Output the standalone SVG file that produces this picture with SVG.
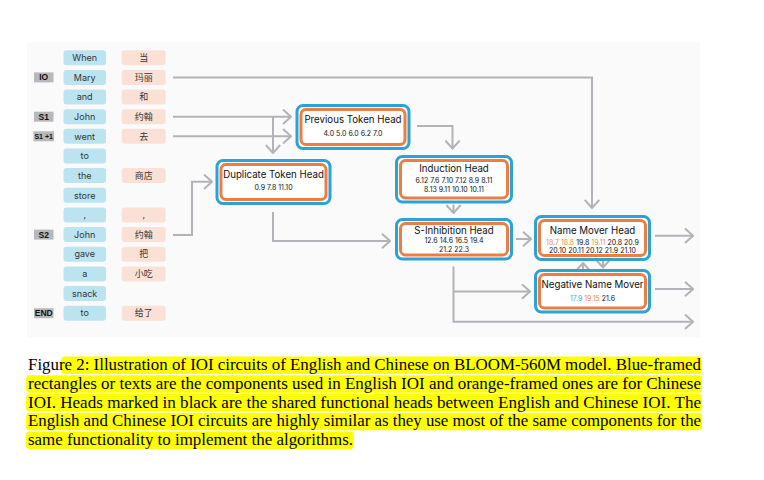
<svg xmlns="http://www.w3.org/2000/svg" width="764" height="480" viewBox="0 0 764 480">
<style>
.tb{fill:#bce4f0}
.to{fill:#fbe1d5}
.tt{font-family:Inter,"Noto Sans CJK SC",sans-serif;font-size:9px;fill:#333;text-anchor:middle}
.lb{fill:#b8b8bc}
.lt{font-family:"Liberation Sans",Arial,sans-serif;font-weight:bold;font-size:8.5px;text-anchor:middle;fill:#111}
.fb{fill:#fff;stroke:#2ea2d2;stroke-width:3}
.fo{fill:#fff;stroke:#ec7e44;stroke-width:3}
.nt{font-family:Inter,sans-serif;font-size:9.7px;text-anchor:middle;fill:#111}
.nn{font-family:Inter,sans-serif;font-size:7px;text-anchor:middle;fill:#111}
.c{fill:none;stroke:#b4b2b8;stroke-width:2}
.o{fill:#ef8a4f}
.b{fill:#3ea8dc}
.cap{font-family:"Liberation Serif","Times New Roman",serif;font-size:16px;fill:#000}
.hl{fill:#ffff00}
</style>
<defs>
<marker id="ah" markerUnits="userSpaceOnUse" viewBox="0 0 10 16" refX="9" refY="8" markerWidth="10" markerHeight="16" orient="auto">
<path d="M1,0.8 L9,8 L1,15.2" fill="none" stroke="#b4b2b8" stroke-width="2"/>
</marker>
</defs>
<rect x="27" y="42" width="673" height="295" fill="#fafafa"/>

<g id="tokens">
<g id="row0"><rect class="tb" x="63.5" y="50.2" width="42.5" height="15" rx="3"/><text class="tt" x="84.7" y="60.9">When</text><rect class="to" x="121.7" y="50.2" width="44" height="15" rx="3"/><text class="tt" x="143.7" y="60.9">当</text></g>
<g id="row1"><rect class="lb" x="34" y="72.4" width="19.5" height="10"/><text class="lt" x="43.7" y="80.4">IO</text><rect class="tb" x="63.5" y="69.9" width="42.5" height="15" rx="3"/><text class="tt" x="84.7" y="80.6">Mary</text><rect class="to" x="121.7" y="69.9" width="44" height="15" rx="3"/><text class="tt" x="143.7" y="80.6">玛丽</text></g>
<g id="row2"><rect class="tb" x="63.5" y="89.5" width="42.5" height="15" rx="3"/><text class="tt" x="84.7" y="100.2">and</text><rect class="to" x="121.7" y="89.5" width="44" height="15" rx="3"/><text class="tt" x="143.7" y="100.2">和</text></g>
<g id="row3"><rect class="lb" x="34" y="111.7" width="19.5" height="10"/><text class="lt" x="43.7" y="119.7">S1</text><rect class="tb" x="63.5" y="109.2" width="42.5" height="15" rx="3"/><text class="tt" x="84.7" y="119.9">John</text><rect class="to" x="121.7" y="109.2" width="44" height="15" rx="3"/><text class="tt" x="143.7" y="119.9">约翰</text></g>
<g id="row4"><rect class="lb" x="33.5" y="131.3" width="20.5" height="10"/><text class="lt" x="43.7" y="138.8" style="font-size:7px">S1 +1</text><rect class="tb" x="63.5" y="128.8" width="42.5" height="15" rx="3"/><text class="tt" x="84.7" y="139.5">went</text><rect class="to" x="121.7" y="128.8" width="44" height="15" rx="3"/><text class="tt" x="143.7" y="139.5">去</text></g>
<g id="row5"><rect class="tb" x="63.5" y="148.5" width="42.5" height="15" rx="3"/><text class="tt" x="84.7" y="159.2">to</text></g>
<g id="row6"><rect class="tb" x="63.5" y="168.1" width="42.5" height="15" rx="3"/><text class="tt" x="84.7" y="178.8">the</text><rect class="to" x="121.7" y="168.1" width="44" height="15" rx="3"/><text class="tt" x="143.7" y="178.8">商店</text></g>
<g id="row7"><rect class="tb" x="63.5" y="187.8" width="42.5" height="15" rx="3"/><text class="tt" x="84.7" y="198.5">store</text></g>
<g id="row8"><rect class="tb" x="63.5" y="207.4" width="42.5" height="15" rx="3"/><text class="tt" x="84.7" y="218.1">,</text><rect class="to" x="121.7" y="207.4" width="44" height="15" rx="3"/><text class="tt" x="143.7" y="218.1">,</text></g>
<g id="row9"><rect class="lb" x="34" y="229.6" width="19.5" height="10"/><text class="lt" x="43.7" y="237.6">S2</text><rect class="tb" x="63.5" y="227.1" width="42.5" height="15" rx="3"/><text class="tt" x="84.7" y="237.8">John</text><rect class="to" x="121.7" y="227.1" width="44" height="15" rx="3"/><text class="tt" x="143.7" y="237.8">约翰</text></g>
<g id="row10"><rect class="tb" x="63.5" y="246.7" width="42.5" height="15" rx="3"/><text class="tt" x="84.7" y="257.4">gave</text><rect class="to" x="121.7" y="246.7" width="44" height="15" rx="3"/><text class="tt" x="143.7" y="257.4">把</text></g>
<g id="row11"><rect class="tb" x="63.5" y="266.4" width="42.5" height="15" rx="3"/><text class="tt" x="84.7" y="277.1">a</text><rect class="to" x="121.7" y="266.4" width="44" height="15" rx="3"/><text class="tt" x="143.7" y="277.1">小吃</text></g>
<g id="row12"><rect class="tb" x="63.5" y="286" width="42.5" height="15" rx="3"/><text class="tt" x="84.7" y="296.7">snack</text></g>
<g id="row13"><rect class="lb" x="34" y="308.2" width="19.5" height="10"/><text class="lt" x="43.7" y="316.2">END</text><rect class="tb" x="63.5" y="305.7" width="42.5" height="15" rx="3"/><text class="tt" x="84.7" y="316.4">to</text><rect class="to" x="121.7" y="305.7" width="44" height="15" rx="3"/><text class="tt" x="143.7" y="316.4">给了</text></g>
</g>

<g id="connectors">
<path class="c" d="M173,77.4 H592 V208" marker-end="url(#ah)"/>
<path class="c" d="M173,116.7 H291" marker-end="url(#ah)"/>
<path class="c" d="M173,136.3 H291" marker-end="url(#ah)"/>
<path class="c" d="M273,116.7 V153" marker-end="url(#ah)"/>
<path class="c" d="M173,235 H192 V181.7 H212" marker-end="url(#ah)"/>
<path class="c" d="M273,212 V241 H390" marker-end="url(#ah)"/>
<path class="c" d="M417,126 H452.5 V148.5" marker-end="url(#ah)"/>
<path class="c" d="M453.5,204.5 V213" marker-end="url(#ah)"/>
<path class="c" d="M516,239 H531" marker-end="url(#ah)"/>
<path class="c" d="M655,235.7 H693" marker-end="url(#ah)"/>
<path class="c" d="M655,289 H693" marker-end="url(#ah)"/>
<path class="c" d="M453.5,266.5 V321.7 H693" marker-end="url(#ah)"/>
<path class="c" d="M453.5,291.5 H530" marker-end="url(#ah)"/>
<path class="c" d="M583,270 V263" marker-end="url(#ah)"/>
<path class="c" d="M603,260 V267.5" marker-end="url(#ah)"/>
</g>

<g id="prev">
<rect class="fb" x="297" y="105.5" width="112" height="43" rx="6"/>
<rect class="fo" x="301" y="109.5" width="104" height="35" rx="5"/>
<text class="nt" x="353" y="122.8">Previous Token Head</text>
<text class="nn" x="353" y="135.8">4.0 5.0 6.0 6.2 7.0</text>
</g>
<g id="dup">
<rect class="fb" x="217" y="160.5" width="113" height="43" rx="6"/>
<rect class="fo" x="221" y="164.5" width="105" height="35" rx="5"/>
<text class="nt" x="273.5" y="177.5">Duplicate Token Head</text>
<text class="nn" x="273.5" y="190.2">0.9 7.8 11.10</text>
</g>
<g id="induction">
<rect class="fb" x="396.5" y="156.5" width="115" height="45.5" rx="6"/>
<rect class="fo" x="400.5" y="160.5" width="107" height="37.5" rx="5"/>
<text class="nt" x="454" y="171.8">Induction Head</text>
<text class="nn" x="454" y="183.2">6.12 7.6 7.10 7.12 8.9 8.11</text>
<text class="nn" x="454" y="191.5">8.13 9.11 10.10 10.11</text>
</g>
<g id="sinh">
<rect class="fb" x="396.5" y="219.5" width="115" height="39.5" rx="6"/>
<rect class="fo" x="400.5" y="223.5" width="107" height="31.5" rx="5"/>
<text class="nt" x="454" y="233.5">S-Inhibition Head</text>
<text class="nn" x="454" y="243.2">12.6 14.6 16.5 19.4</text>
<text class="nn" x="454" y="251.8">21.2 22.3</text>
</g>
<g id="namemover">
<rect class="fb" x="535.5" y="216.5" width="114" height="43" rx="6"/>
<rect class="fo" x="539.5" y="220.5" width="106" height="35" rx="5"/>
<text class="nt" x="592.5" y="234.2">Name Mover Head</text>
<text class="nn" x="592.5" y="244.8"><tspan class="o">18.7 18.8</tspan> 19.8 <tspan class="o">19.11</tspan> 20.8 20.9</text>
<text class="nn" x="592.5" y="253.2">20.10 20.11 20.12 21.9 21.10</text>
</g>
<g id="negative">
<rect class="fb" x="535.5" y="270.5" width="114" height="41.5" rx="6"/>
<rect class="fo" x="539.5" y="274.5" width="106" height="33.5" rx="5"/>
<text class="nt" x="592.5" y="287.5">Negative Name Mover</text>
<text class="nn" x="592.5" y="300.8"><tspan class="b">17.9</tspan> <tspan class="o">19.15</tspan> 21.6</text>
</g>

<g id="caption">
<rect class="hl" x="61" y="356.5" width="641" height="17.5" rx="4"/>
<rect class="hl" x="26" y="375.3" width="676" height="17.5" rx="4"/>
<rect class="hl" x="26" y="394" width="676" height="17.5" rx="4"/>
<rect class="hl" x="26" y="412.7" width="676" height="17.5" rx="4"/>
<rect class="hl" x="26" y="431.4" width="328" height="17.5" rx="4"/>
<text class="cap" x="28" y="370" textLength="673" lengthAdjust="spacingAndGlyphs">Figure 2: Illustration of IOI circuits of English and Chinese on BLOOM-560M model. Blue-framed</text>
<text class="cap" x="28" y="388.8" textLength="673" lengthAdjust="spacingAndGlyphs">rectangles or texts are the components used in English IOI and orange-framed ones are for Chinese</text>
<text class="cap" x="28" y="407.5" textLength="673" lengthAdjust="spacingAndGlyphs">IOI. Heads marked in black are the shared functional heads between English and Chinese IOI. The</text>
<text class="cap" x="28" y="426.2" textLength="673" lengthAdjust="spacingAndGlyphs">English and Chinese IOI circuits are highly similar as they use most of the same components for the</text>
<text class="cap" x="28" y="445" textLength="325" lengthAdjust="spacingAndGlyphs">same functionality to implement the algorithms.</text>
</g>
</svg>
